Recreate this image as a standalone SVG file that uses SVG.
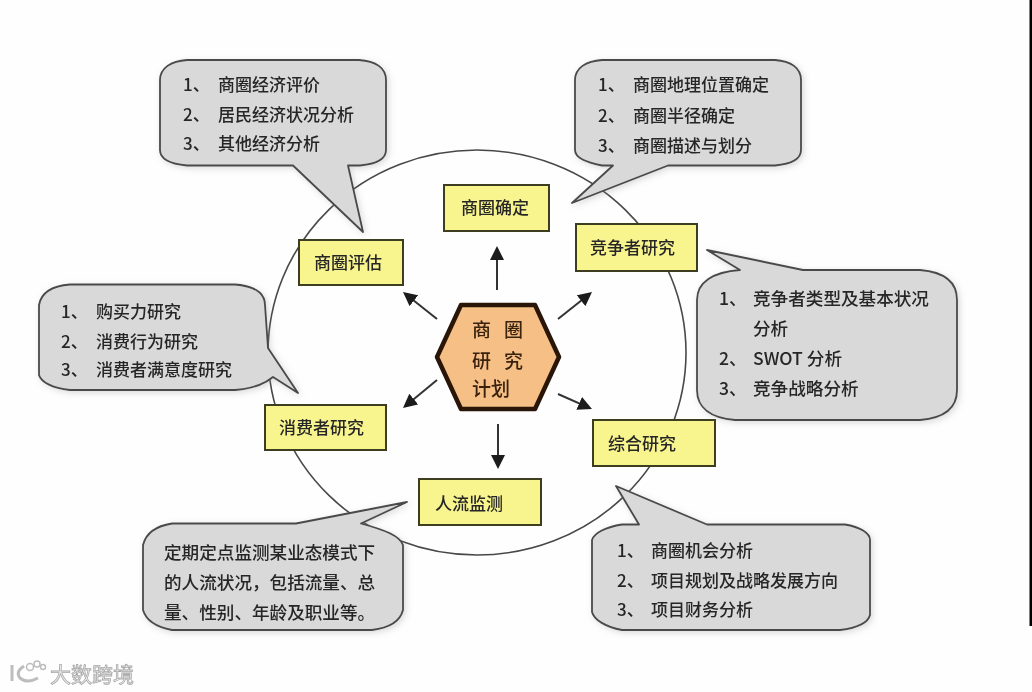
<svg xmlns="http://www.w3.org/2000/svg" width="1032" height="692" viewBox="0 0 1032 692">
<style>
text{font-family:"Noto Sans CJK SC","Liberation Sans",sans-serif;font-weight:500;fill:#262626;filter:url(#soft)}
.t{font-size:17px}
.w{font-size:17.6px}
.h{font-size:19px;fill:#3a2210}
.c{fill:#d9d9da;stroke:#4a4a4a;stroke-width:1.8;stroke-linejoin:round;filter:url(#shadow)}
.b{fill:#f8f58f;stroke:#3d3d20;stroke-width:2}
.a{stroke:#333;stroke-width:2;fill:none;marker-end:url(#ah)}
.wm{font-size:21px;font-weight:400;fill:#f2f2f2;stroke:#a8a8a8;stroke-width:.8}
</style>
<defs>
<filter id="soft" x="-5%" y="-20%" width="110%" height="140%"><feGaussianBlur stdDeviation="0.35"/></filter>
<filter id="shadow" x="-10%" y="-10%" width="125%" height="125%"><feDropShadow dx="2" dy="2" stdDeviation="3" flood-color="#888" flood-opacity="0.3"/></filter>
<marker id="ah" markerUnits="userSpaceOnUse" markerWidth="14" markerHeight="14" refX="8" refY="7" orient="auto"><path d="M0 0L14 7L0 14z" fill="#1c1c1c"/></marker>
</defs>
<rect width="1032" height="692" fill="#fefefe"/>
<rect x="1029.500" y="0" width="2.500" height="626" fill="#000"/>
<ellipse id="ring" cx="477" cy="352.500" rx="209" ry="202.500" fill="none" stroke="#484848" stroke-width="1.600"/>
<g id="connectors">
<path class="a" d="M497 290V252"/>
<path class="a" d="M437 319L407.700 295.700"/>
<path class="a" d="M558 319L587.300 295.700"/>
<path class="a" d="M437 380L407.600 404.200"/>
<path class="a" d="M558 394L586.500 406.600"/>
<path class="a" d="M498 424V463"/>
</g>
<g id="hub">
<path d="M437 357L461 305H535L559 357L535 409H461Z" fill="#f6bf85" stroke="#2a1608" stroke-width="4.500" stroke-linejoin="round"/>
<text class="h" x="472" y="337">商</text><text class="h" x="504" y="337">圈</text>
<text class="h" x="472" y="368">研</text><text class="h" x="504" y="368">究</text>
<text class="h" x="472" y="396">计划</text>
</g>
<g id="node-quedin"><rect class="b" x="444" y="185" width="105" height="46"/><text class="t" x="461" y="214">商圈确定</text></g>
<g id="node-pinggu"><rect class="b" x="299" y="240" width="104" height="45"/><text class="t" x="314" y="268.500">商圈评估</text></g>
<g id="node-jingzheng"><rect class="b" x="576" y="224" width="121" height="47"/><text class="t" x="590" y="253.500">竞争者研究</text></g>
<g id="node-xiaofei"><rect class="b" x="265" y="405" width="121" height="45"/><text class="t" x="279" y="433.500">消费者研究</text></g>
<g id="node-zonghe"><rect class="b" x="593" y="420" width="122" height="46"/><text class="t" x="608" y="449.500">综合研究</text></g>
<g id="node-renliu"><rect class="b" x="419" y="479" width="122" height="46"/><text class="t" x="435" y="509.500">人流监测</text></g>
<g id="callout-pinggu">
<path class="c" d="M187 60H359C376 61 386 68 386 80V150C386 160 376 164 360 165.500H348L363 232L293 165.500H187C171 164 160 160 160 150V80C160 68 171 61 187 60Z"/>
<text class="t" x="183" y="91">1、</text><text class="t" x="218" y="91">商圈经济评价</text>
<text class="t" x="183" y="121">2、</text><text class="t" x="218" y="121">居民经济状况分析</text>
<text class="t" x="183" y="150">3、</text><text class="t" x="218" y="150">其他经济分析</text>
</g>
<g id="callout-quedin">
<path class="c" d="M602 60H775C791 61 801 68 801 80V150C801 160 791 164 775 165.500H668L572 203L613 165.500H602C586 162 575 158 575 150V80C575 68 586 61 602 60Z"/>
<text class="t" x="598" y="91">1、</text><text class="t" x="633" y="91">商圈地理位置确定</text>
<text class="t" x="598" y="122">2、</text><text class="t" x="633" y="122">商圈半径确定</text>
<text class="t" x="598" y="152">3、</text><text class="t" x="633" y="152">商圈描述与划分</text>
</g>
<g id="callout-jingzheng">
<path class="c" d="M740 270L707 250L803 270H920C944 272 957 282 957 300V390C957 408 944 418 920 420H735C711 418 697 408 697 390V300C697 282 713 272 740 270Z"/>
<text class="w" x="719" y="304.500">1、</text><text class="w" x="753" y="304.500">竞争者类型及基本状况</text>
<text class="w" x="753" y="334.500">分析</text>
<text class="w" x="719" y="364.500">2、</text><text class="w" x="753" y="364.500">SWOT 分析</text>
<text class="w" x="719" y="394.500">3、</text><text class="w" x="753" y="394.500">竞争战略分析</text>
</g>
<g id="callout-xiaofei">
<path class="c" d="M70 284.500H235C254 286 265 293 265 305L268 348L298 393L273 377C262 386 250 389 235 390H70C52 388 41 382 39 375V305C41 293 52 286 70 284.500Z"/>
<text class="t" x="61" y="317.500">1、</text><text class="t" x="96" y="317.500">购买力研究</text>
<text class="t" x="61" y="347.500">2、</text><text class="t" x="96" y="347.500">消费行为研究</text>
<text class="t" x="61" y="375.500">3、</text><text class="t" x="96" y="375.500">消费者满意度研究</text>
</g>
<g id="callout-renliu">
<path class="c" d="M172 523.500H296L407 502L361 523.500C385 530 400 536 403 545V610C400 622 388 628 372 630H172C156 627 146 620 143 610V545C146 533 156 526 172 523.500Z"/>
<text class="w" x="164" y="558.500">定期定点监测某业态模式下</text>
<text class="w" x="164" y="588.500">的人流状况，包括流量、总</text>
<text class="w" x="164" y="618.500">量、性别、年龄及职业等。</text>
</g>
<g id="callout-zonghe">
<path class="c" d="M622 524.500H639L616 486L707 524.500H845C860 527 870 533 870 540V615C868 623 856 628 840 630H622C606 627 594 620 592 612V540C594 533 606 527 622 524.500Z"/>
<text class="t" x="617" y="557">1、</text><text class="t" x="651" y="557">商圈机会分析</text>
<text class="t" x="617" y="587">2、</text><text class="t" x="651" y="587">项目规划及战略发展方向</text>
<text class="t" x="617" y="616">3、</text><text class="t" x="651" y="616">项目财务分析</text>
</g>
<g id="watermark">
<path d="M12 665V681M24 666Q15 672 20 678Q27 684 38 678" fill="none" stroke="#bdbdbd" stroke-width="3"/>
<circle cx="30" cy="667" r="3.500" fill="#fff" stroke="#bdbdbd" stroke-width="1.500"/>
<circle cx="37" cy="664" r="3" fill="#fff" stroke="#bdbdbd" stroke-width="1.500"/>
<circle cx="43" cy="667" r="2.500" fill="#fff" stroke="#bdbdbd" stroke-width="1.500"/>
<text class="wm" x="50" y="682">大数跨境</text>
</g>
</svg>
